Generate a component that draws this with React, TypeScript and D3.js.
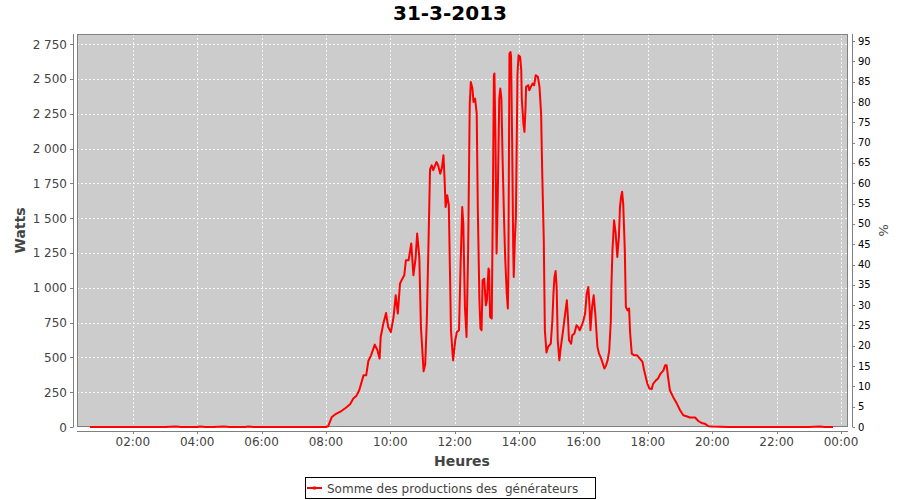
import React from "react";
import * as d3 from "d3";

const title = "31-3-2013";
const seriesName = "Somme des productions des  générateurs";

const times: string[] = [
  "00:40","01:00","01:30","02:00","02:30","03:00","03:20","03:30","04:00","04:05","04:15","04:30","04:50","05:00","05:30","05:35","05:45","06:00","06:30","07:00","07:30","08:00",
  "08:04","08:11","08:17","08:26","08:36","08:45","08:51","08:57","09:02","09:10","09:15","09:19","09:24","09:31","09:36","09:40","09:42","09:47","09:52","09:56",
  "10:01","10:06","10:10","10:14","10:18","10:21","10:26","10:29","10:34","10:39","10:43","10:47","10:50","10:54","10:57",
  "11:00","11:02","11:05","11:08","11:11","11:14","11:17","11:20","11:26","11:29","11:33","11:36","11:39","11:41","11:43","11:46","11:49","11:53","11:56","11:57",
  "12:01","12:04","12:08","12:11","12:14","12:16","12:19","12:22","12:25","12:28","12:30","12:33","12:35","12:38","12:41","12:43","12:46","12:48","12:50","12:52","12:55","12:58",
  "13:00","13:03","13:04","13:06","13:09","13:11","13:13","13:14","13:16","13:18","13:20","13:23","13:25","13:27","13:29","13:32","13:34","13:37","13:39","13:40","13:42","13:44","13:45","13:47","13:49","13:50","13:52","13:54","13:57","13:59",
  "14:02","14:04","14:05","14:08","14:10","14:12","14:13","14:17","14:19","14:22","14:25","14:28","14:31","14:35","14:38","14:41","14:43","14:46","14:48","14:51","14:54","14:59",
  "15:02","15:04","15:06","15:08","15:10","15:12","15:15","15:17","15:22","15:25","15:29","15:31","15:33","15:37","15:39","15:43","15:47","15:50","15:53","15:57",
  "16:00","16:03","16:06","16:09","16:11","16:13","16:16","16:19","16:22","16:26","16:29","16:33","16:36","16:39","16:42","16:45","16:48","16:51","16:52","16:54","16:57",
  "17:00","17:03","17:06","17:08","17:10","17:12","17:14","17:17","17:19","17:22","17:25","17:27","17:30","17:34","17:40","17:45","17:50","17:53","17:56","17:59",
  "18:03","18:07","18:10","18:15","18:19","18:23","18:29","18:32","18:35","18:38","18:41","18:47","18:54",
  "19:00","19:06","19:12","19:18","19:28","19:34","19:40","19:46","19:53",
  "20:00","20:30","21:00","21:30","22:00","22:30","23:00","23:20","23:30","23:45"
];

const watts: number[] = [
  0,0,0,0,0,0,3,0,0,3,0,0,3,0,0,3,0,0,0,0,0,0,
  5,72,90,108,135,163,204,225,264,371,371,474,515,592,551,491,647,743,819,718,
  682,790,946,815,1030,1054,1090,1198,1198,1318,1090,1210,1390,1220,718,
  527,400,450,767,1300,1850,1880,1845,1904,1880,1820,1860,1952,1790,1580,1665,1593,695,527,479,
  623,682,695,1174,1580,1461,862,647,1270,2323,2478,2431,2335,2359,2251,1580,910,707,695,1054,1066,874,
  910,1138,1126,790,779,1580,2527,2539,2060,1246,1600,2359,2431,2359,1964,1485,1221,958,851,1102,2683,2694,2658,2060,1293,1078,1341,1509,2539,2670,
  2658,2563,2359,2180,2120,2300,2443,2455,2419,2443,2467,2455,2527,2515,2443,2251,1844,1341,695,535,575,599,
  767,958,1080,1120,1006,623,479,551,695,790,910,790,623,599,659,671,731,718,695,731,
  767,815,958,1006,886,695,862,946,815,575,527,491,455,420,443,479,551,767,1006,1270,1485,
  1390,1221,1365,1580,1652,1690,1605,1270,862,838,851,671,527,515,515,491,467,407,359,312,
  276,272,312,335,348,380,407,443,443,348,264,216,168,
  120,84,77,68,68,43,29,24,5,
  3,0,0,0,0,0,0,3,0,0
];

const leftTicks: number[] = [0, 250, 500, 750, 1000, 1250, 1500, 1750, 2000, 2250, 2500, 2750];
const rightTicks: number[] = [0, 5, 10, 15, 20, 25, 30, 35, 40, 45, 50, 55, 60, 65, 70, 75, 80, 85, 90, 95];
const xTickLabels: string[] = ["02:00","04:00","06:00","08:00","10:00","12:00","14:00","16:00","18:00","20:00","22:00","00:00"];

const toMin = (s: string) => {
  const [h, m] = s.split(":").map(Number);
  return h * 60 + m;
};

const FONT = "'DejaVu Sans', sans-serif";

export default function App() {
  const W = 900, H = 500;
  const plot = { left: 77, right: 848, top: 34, bottom: 427 };

  const x = d3.scaleLinear().domain([16, 1453]).range([plot.left, plot.right]);
  const y = d3.scaleLinear().domain([0, 2823]).range([plot.bottom, plot.top]);
  const y2 = d3.scaleLinear().domain([0, 96.75]).range([plot.bottom, plot.top]);

  const data = times.map((t, i) => ({ t: toMin(t), v: watts[i] }));
  const line = d3.line<{ t: number; v: number }>().x(d => x(d.t)).y(d => y(d.v));

  const locale = d3.formatLocale({ decimal: ",", thousands: "\u00a0", grouping: [3], currency: ["", "€"] });
  const fmt = locale.format(",d");

  const xTicks = xTickLabels.map((l, i) => ({ label: l, v: (i + 1) * 120 }));

  const axisColor = "#808080";
  const textColor = "#444444";

  return (
    <svg width={W} height={H} style={{ position: "absolute", left: 0, top: 0, background: "#fff" }}>
      <rect x={0} y={0} width={W} height={H} fill="#ffffff" />
      <text x={450} y={20} textAnchor="middle" fontFamily={FONT} fontWeight="bold" fontSize={20} fill="#000">{title}</text>

      <rect x={plot.left} y={plot.top} width={plot.right - plot.left} height={plot.bottom - plot.top} fill="#cccccc" />
      {leftTicks.map(t => (
        <line key={"gy" + t} x1={plot.left} x2={plot.right} y1={Math.round(y(t)) + 0.5} y2={Math.round(y(t)) + 0.5}
          stroke="#ffffff" strokeOpacity={0.85} strokeDasharray="2,2" strokeWidth={1} />
      ))}
      {xTicks.map(t => (
        <line key={"gx" + t.v} y1={plot.top} y2={plot.bottom} x1={Math.round(x(t.v)) + 0.5} x2={Math.round(x(t.v)) + 0.5}
          stroke="#ffffff" strokeOpacity={0.85} strokeDasharray="2,2" strokeWidth={1} />
      ))}
      <rect x={plot.left + 0.5} y={plot.top + 0.5} width={plot.right - plot.left - 1} height={plot.bottom - plot.top - 1} fill="none" stroke={axisColor} strokeWidth={1} />

      <path d={line(data) || ""} fill="none" stroke="#ff0000" strokeWidth={2} strokeLinejoin="round" />

      {/* left axis */}
      <line x1={73.5} x2={73.5} y1={plot.top} y2={plot.bottom} stroke={axisColor} />
      {leftTicks.map(t => (
        <g key={"ly" + t}>
          <line x1={70} x2={73.5} y1={Math.round(y(t)) + 0.5} y2={Math.round(y(t)) + 0.5} stroke={axisColor} />
          <text x={67} y={y(t) + 4.5} textAnchor="end" fontFamily={FONT} fontSize={12} fill={textColor}>{fmt(t)}</text>
        </g>
      ))}
      <text transform={`translate(25,${(plot.top + plot.bottom) / 2}) rotate(-90)`} textAnchor="middle" fontFamily={FONT} fontWeight="bold" fontSize={14} fill={textColor}>Watts</text>

      {/* right axis */}
      <line x1={852.5} x2={852.5} y1={plot.top} y2={plot.bottom} stroke={axisColor} />
      {rightTicks.map(t => (
        <g key={"ry" + t}>
          <line x1={852.5} x2={855} y1={Math.round(y2(t)) + 0.5} y2={Math.round(y2(t)) + 0.5} stroke={axisColor} />
          <text x={858} y={y2(t) + 3.5} textAnchor="start" fontFamily={FONT} fontSize={10} fill="#000">{t}</text>
        </g>
      ))}
      <text transform={`translate(879,${(plot.top + plot.bottom) / 2}) rotate(90)`} textAnchor="middle" fontFamily={FONT} fontSize={13} fill={textColor}>%</text>

      {/* bottom axis */}
      <line x1={plot.left} x2={plot.right} y1={431.5} y2={431.5} stroke={axisColor} />
      {xTicks.map(t => (
        <g key={"lx" + t.v}>
          <line x1={Math.round(x(t.v)) + 0.5} x2={Math.round(x(t.v)) + 0.5} y1={431.5} y2={434} stroke={axisColor} />
          <text x={x(t.v)} y={446} textAnchor="middle" fontFamily={FONT} fontSize={12} fill={textColor}>{t.label}</text>
        </g>
      ))}
      <text x={462} y={466} textAnchor="middle" fontFamily={FONT} fontWeight="bold" fontSize={14} fill={textColor}>Heures</text>

      {/* legend */}
      <rect x={305.5} y={477.5} width={290} height={21} fill="#fff" stroke="#000" strokeWidth={1} />
      <line x1={307} x2={322} y1={488} y2={488} stroke="#ff0000" strokeWidth={2} />
      <rect x={313} y={486.5} width={3} height={3} fill="#ff0000" />
      <text x={327} y={492.5} fontFamily={FONT} fontSize={12} fill={textColor} style={{ whiteSpace: "pre" }}>{seriesName}</text>
    </svg>
  );
}
